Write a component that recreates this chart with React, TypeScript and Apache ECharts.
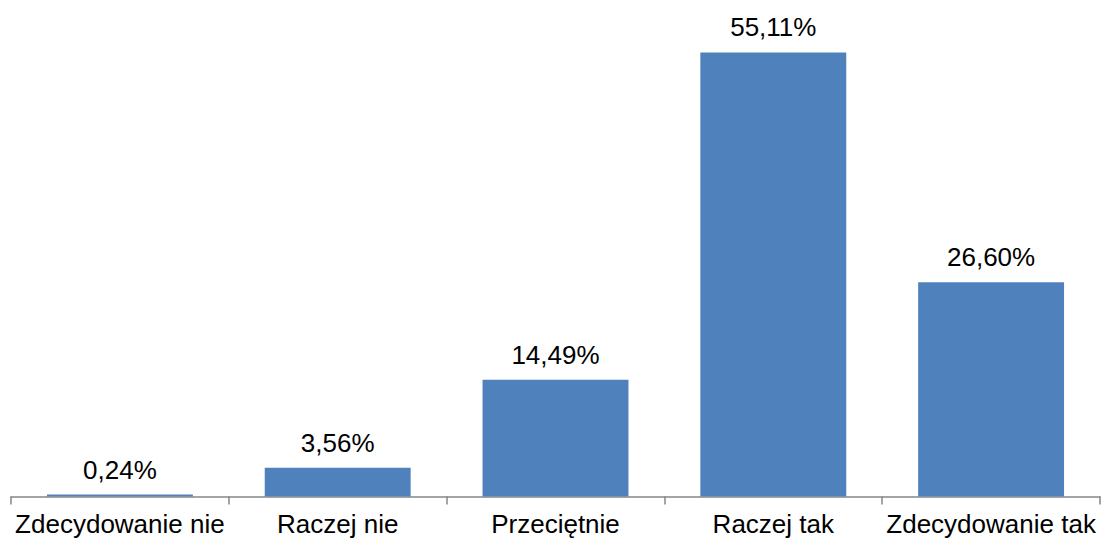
import React, { useEffect, useRef } from "react";
import * as echarts from "echarts";

const categories = ["Zdecydowanie nie", "Raczej nie", "Przeciętnie", "Raczej tak", "Zdecydowanie tak"];
const values = [0.24, 3.56, 14.49, 55.11, 26.6];

export default function App() {
  const ref = useRef<HTMLDivElement>(null);
  useEffect(() => {
    if (!ref.current) return;
    const chart = echarts.init(ref.current, null, { renderer: "svg" });
    chart.setOption({
      animation: false,
      textStyle: { fontFamily: "Liberation Sans, Arial, sans-serif" },
      grid: { left: 11, right: 4, top: 13, bottom: 44.5, containLabel: false },
      xAxis: {
        type: "category",
        data: categories,
        axisLine: { lineStyle: { color: "#868686", width: 1.5 } },
        axisTick: { show: true, length: 8, lineStyle: { color: "#868686", width: 1.5 } },
        axisLabel: { color: "#000", fontSize: 26, margin: 14, interval: 0 },
      },
      yAxis: {
        type: "value",
        min: 0,
        max: 60,
        show: false,
        splitLine: { show: false },
      },
      series: [
        {
          type: "bar",
          data: values,
          barCategoryGap: "33%",
          itemStyle: { color: "#4F81BD" },
          label: {
            show: true,
            position: "top",
            distance: 12,
            color: "#000",
            fontSize: 26,
            formatter: (p: any) => p.value.toFixed(2).replace(".", ",") + "%",
          },
        },
      ],
    });
    return () => chart.dispose();
  }, []);
  return <div ref={ref} style={{ width: 1104, height: 541, position: "absolute", left: 0, top: 0 }} />;
}
